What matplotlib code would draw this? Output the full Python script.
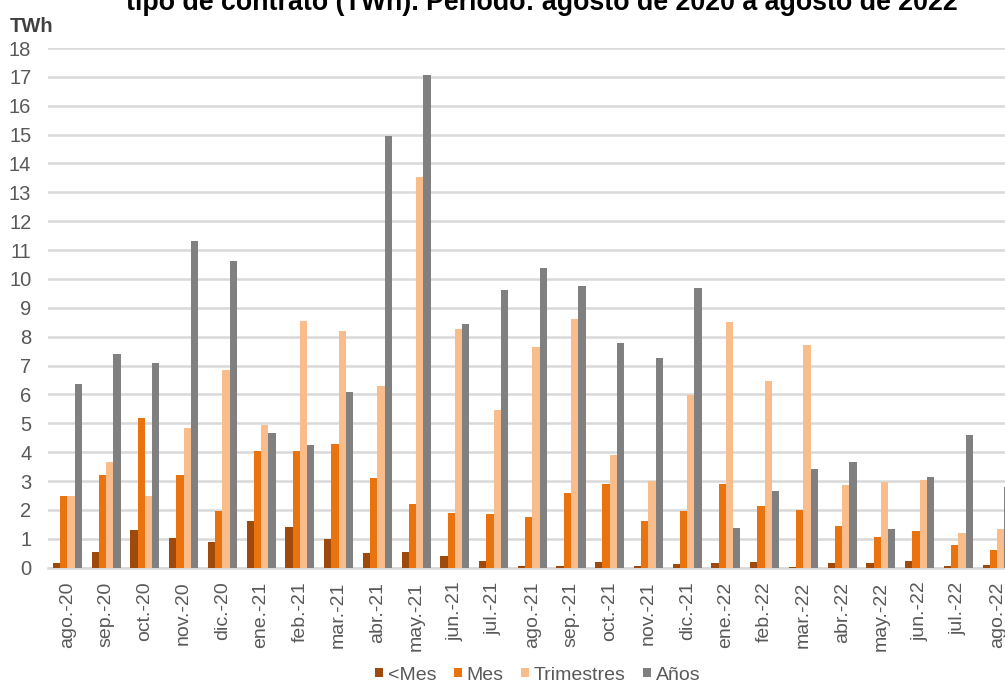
import matplotlib
matplotlib.use("Agg")
import matplotlib.pyplot as plt
import numpy as np

plt.rcParams['font.family'] = ['Liberation Sans', 'DejaVu Sans']

months = ["ago.-20", "sep.-20", "oct.-20", "nov.-20", "dic.-20",
          "ene.-21", "feb.-21", "mar.-21", "abr.-21", "may.-21", "jun.-21",
          "jul.-21", "ago.-21", "sep.-21", "oct.-21", "nov.-21", "dic.-21",
          "ene.-22", "feb.-22", "mar.-22", "abr.-22", "may.-22", "jun.-22",
          "jul.-22", "ago.-22"]

menos_mes = [0.17, 0.53, 1.32, 1.03, 0.90, 1.62, 1.42, 1.00, 0.50, 0.54, 0.40,
             0.22, 0.07, 0.07, 0.19, 0.07, 0.12, 0.17, 0.19, 0.03, 0.15, 0.17,
             0.23, 0.05, 0.09]
mes = [2.50, 3.20, 5.20, 3.20, 1.95, 4.05, 4.05, 4.30, 3.10, 2.20, 1.90,
       1.86, 1.75, 2.60, 2.90, 1.63, 1.97, 2.89, 2.14, 2.01, 1.46, 1.08,
       1.28, 0.78, 0.62]
trimestres = [2.50, 3.65, 2.50, 4.85, 6.85, 4.95, 8.56, 8.21, 6.30, 13.52, 8.28,
              5.45, 7.63, 8.61, 3.90, 3.00, 5.99, 8.50, 6.45, 7.71, 2.87, 2.98,
              3.04, 1.20, 1.34]
anos = [6.35, 7.40, 7.10, 11.33, 10.62, 4.65, 4.25, 6.10, 14.96, 17.08, 8.45,
        9.63, 10.38, 9.74, 7.78, 7.28, 9.70, 1.39, 2.67, 3.41, 3.65, 1.33,
        3.15, 4.59, 2.79]

series = [("<Mes", menos_mes, "#9e4a0c"),
          ("Mes", mes, "#e8730f"),
          ("Trimestres", trimestres, "#f9bd8c"),
          ("Años", anos, "#808080")]

W, H = 1005, 684
fig = plt.figure(figsize=(W / 100, H / 100), dpi=100)
ax = fig.add_axes([48 / W, (H - 567.7) / H, 968.5 / W, (567.7 - 48) / H])

x = np.arange(len(months))
bw = 0.75 / 4
for k, (name, vals, col) in enumerate(series):
    ax.bar(x + (k - 1.5) * bw, vals, width=bw, color=col, label=name, zorder=3)

ax.set_xlim(-0.5, len(months) - 0.5)
ax.set_ylim(0, 18)
ax.set_yticks(range(0, 19))
ax.set_xticks(x)
ax.set_xticklabels(months, rotation=90, fontsize=14, color="#595959")
ax.tick_params(axis="y", labelsize=14.5, colors="#595959", length=0, pad=12)
ax.tick_params(axis="x", length=0, pad=10)
ax.grid(axis="y", color="#d9d9d9", linewidth=1.8, zorder=0)
for s in ["top", "right", "left"]:
    ax.spines[s].set_visible(False)
ax.spines["bottom"].set_color("#d9d9d9")
ax.spines["bottom"].set_linewidth(1.8)

fig.text(10 / W, 1 - 26 / H, "TWh", fontsize=14.5, fontweight="bold",
         color="#404040", va="center", ha="left")

fig.text(542 / W, 1 - 10 / H,
         "tipo de contrato (TWh). Periodo: agosto de 2020 a agosto de 2022",
         fontsize=19.3, fontweight="bold", ha="center", va="baseline")

leg = fig.legend(loc="center", bbox_to_anchor=(538 / W, 1 - 675 / H),
                 bbox_transform=fig.transFigure, ncol=4,
                 frameon=False, fontsize=14, handlelength=0.4, handleheight=0.4,
                 handletextpad=0.25, columnspacing=0.9, borderaxespad=0,
                 borderpad=0)
for t in leg.get_texts():
    t.set_color("#595959")

fig.savefig("out.png", dpi=100)
